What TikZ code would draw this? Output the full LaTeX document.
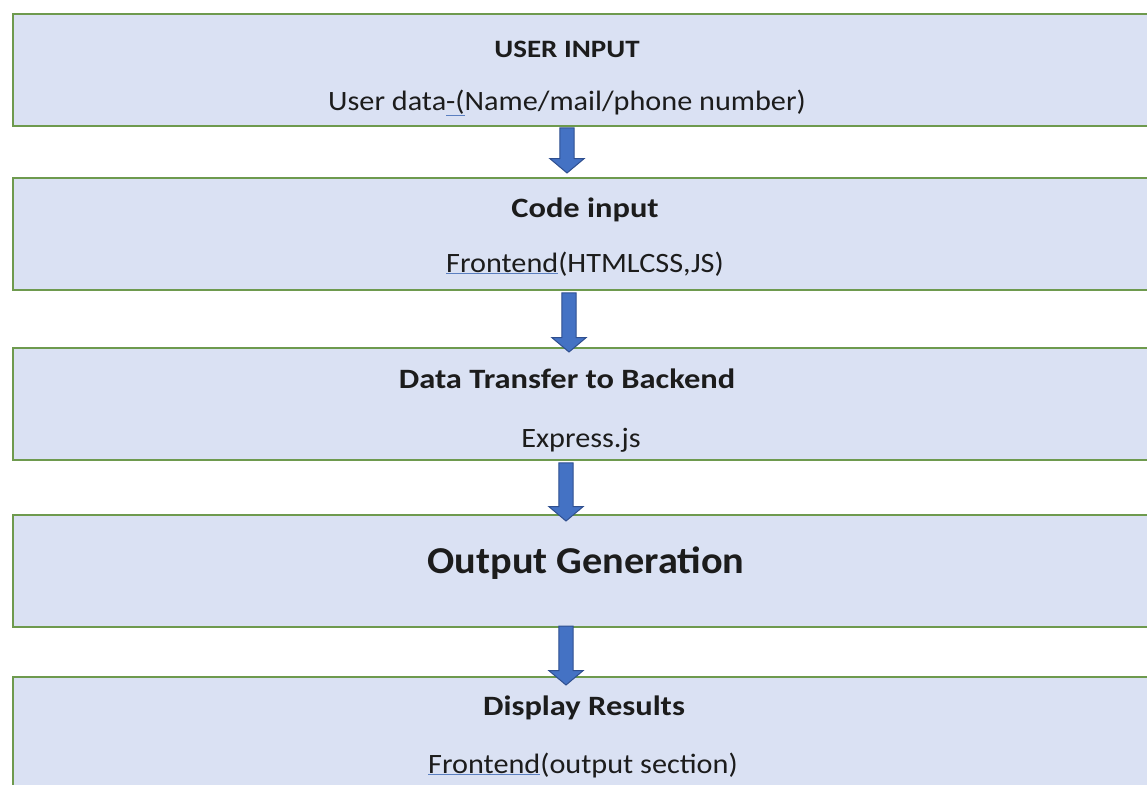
\documentclass[tikz,border=0pt]{standalone}
\usepackage{fontspec}
\setmainfont{Carlito}
\newfontfamily\regw[FakeStretch=1.08]{Carlito}
\newfontfamily\boldw[FakeStretch=1.16]{Carlito}
\newfontfamily\bigw[FakeStretch=1.06]{Carlito}
\usetikzlibrary{shapes.arrows}
\definecolor{boxfill}{HTML}{DAE1F3}
\definecolor{boxline}{HTML}{6E9A4E}
\definecolor{arrfill}{HTML}{4472C4}
\definecolor{arrline}{HTML}{2F4F8F}
\definecolor{txt}{HTML}{1C1C1C}
\definecolor{ulblue}{HTML}{5B7FC0}
\newcommand{\blueul}[1]{{\color{ulblue}\underline{\color{txt}#1}}}
\tikzset{
  stagebox/.style={draw=boxline, line width=2.6pt, fill=boxfill, minimum width=1170, minimum height=112, inner sep=0pt},
  ttl/.style={font=\fontsize{28}{32}\boldw\bfseries, text=txt, anchor=base, inner sep=0pt},
  sub/.style={font=\fontsize{28}{32}\regw, text=txt, anchor=base, inner sep=0pt},
  flowarrow/.style={single arrow, draw=arrline, line width=1pt, fill=arrfill, rotate=-90,
    minimum width=34, single arrow head extend=9pt, single arrow tip angle=100,
    single arrow head indent=0pt, inner xsep=0pt, inner ysep=6pt}
}
\begin{document}
\begin{tikzpicture}[x=1pt,y=-1pt]
\useasboundingbox (0,0) rectangle (1147,784);
\clip (0,0) rectangle (1147,784);
\node[stagebox] (b1) at (598,70) {};
\node[stagebox] (b2) at (598,234) {};
\node[stagebox] (b3) at (598,404) {};
\node[stagebox] (b4) at (598,571) {};
\node[stagebox, minimum height=130] (b5) at (598,742) {};
\node[ttl, font=\fontsize{25}{30}\boldw\bfseries] (t1) at (567,57) {USER INPUT};
\node[sub] (s1) at (567,110) {User data\blueul{-(}Name/mail/phone number)};
\node[ttl] (t2) at (585,217) {Code input};
\node[sub] (s2) at (585,272) {\blueul{Frontend}(HTMLCSS,JS)};
\node[ttl] (t3) at (567,388) {Data Transfer to Backend};
\node[sub] (s3) at (581,447) {Express.js};
\node[font=\fontsize{38}{44}\bigw\bfseries, text=txt, anchor=base, inner sep=0pt] (t4) at (586,573) {Output Generation};
\node[ttl] (t5) at (584,715) {Display Results};
\node[sub] (s5) at (583,773) {\blueul{Frontend}(output section)};
\node[flowarrow, minimum height=45] (a1) at (567,147.5) {};
\node[flowarrow, minimum height=59] (a2) at (569,319.5) {};
\node[flowarrow, minimum height=58] (a3) at (566,489) {};
\node[flowarrow, minimum height=59] (a4) at (566,652.5) {};
\end{tikzpicture}
\end{document}
